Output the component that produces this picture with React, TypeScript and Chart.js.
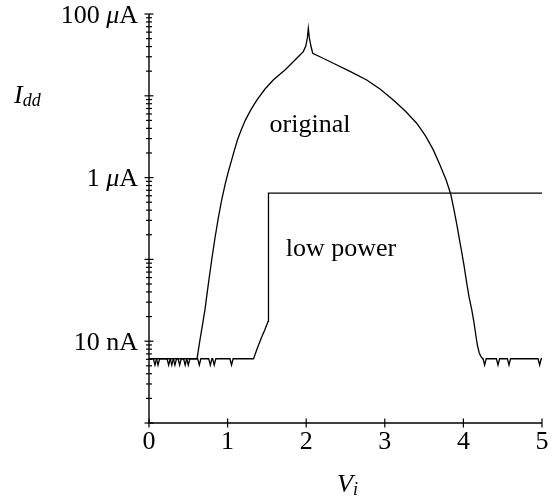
import React, { useEffect, useRef } from "react";
import { Chart, registerables } from "chart.js";

Chart.register(...registerables);

// Supply current I_dd (A) against input voltage V_i (V), original cell
const originalV = [
  0, 0.056, 0.076, 0.096, 0.23, 0.25, 0.27, 0.31, 0.33, 0.35, 0.44, 0.46, 0.48,
  0.611, 0.649, 0.681, 0.712, 0.754, 0.798, 0.84, 0.882, 0.925, 0.967, 1.009,
  1.052, 1.088, 1.126, 1.174, 1.228, 1.295, 1.374, 1.476, 1.581, 1.654, 1.73,
  1.807, 1.879, 1.921, 1.963, 1.995, 2.015, 2.027, 2.04, 2.06, 2.083, 2.201,
  2.345, 2.557, 2.77, 2.939, 3.108, 3.257, 3.406, 3.518, 3.617, 3.702, 3.779,
  3.838, 3.88, 3.919, 3.95, 3.978, 4.008, 4.042, 4.071, 4.106, 4.135, 4.16,
  4.179, 4.202, 4.224, 4.246, 4.25, 4.27, 4.29, 4.42, 4.44, 4.46, 4.56, 4.58,
  4.6, 4.95, 4.97, 4.99, 5.0,
];
const originalI = [
  6.1e-9, 6.1e-9, 5.1e-9, 6.1e-9, 6.1e-9, 5.1e-9, 6.1e-9, 6.1e-9, 5.1e-9, 6.1e-9, 6.1e-9, 5.1e-9, 6.1e-9,
  6.1e-9, 1.047e-8, 1.596e-8, 2.43e-8, 4.91e-8, 9.91e-8, 1.84e-7, 3.21e-7, 5.36e-7, 8.17e-7, 1.18e-6,
  1.65e-6, 2.18e-6, 2.9e-6, 3.84e-6, 5.08e-6, 6.73e-6, 8.91e-6, 1.21e-5, 1.56e-5, 1.8e-5, 2.07e-5,
  2.45e-5, 2.88e-5, 3.16e-5, 3.47e-5, 4.06e-5, 5.1e-5, 6.68e-5, 5.1e-5, 4.06e-5, 3.31e-5, 2.92e-5,
  2.5e-5, 1.99e-5, 1.56e-5, 1.21e-5, 8.91e-6, 6.55e-6, 4.62e-6, 3.24e-6, 2.18e-6, 1.43e-6, 9.4e-7,
  6.34e-7, 4.05e-7, 2.58e-7, 1.74e-7, 1.24e-7, 8.38e-8, 5.15e-8, 3.51e-8, 2.43e-8, 1.69e-8, 1.15e-8,
  8.83e-9, 7.19e-9, 6.49e-9, 6.1e-9, 6.1e-9, 5.1e-9, 6.1e-9, 6.1e-9, 5.1e-9, 6.1e-9, 6.1e-9, 5.1e-9,
  6.1e-9, 6.1e-9, 5.1e-9, 6.1e-9, 6.1e-9,
];

// Supply current of the low power cell
const lowPowerV = [
  0, 0.095, 0.115, 0.135, 0.27, 0.29, 0.31, 0.37, 0.39, 0.41, 0.48, 0.5, 0.52,
  0.62, 0.64, 0.66, 0.76, 0.78, 0.8, 0.81, 0.83, 0.85, 1.03, 1.05, 1.07,
  1.33, 1.38, 1.43, 1.47, 1.5, 1.515, 1.52, 5.0,
];
const lowPowerI = [
  6.1e-9, 6.1e-9, 5.1e-9, 6.1e-9, 6.1e-9, 5.1e-9, 6.1e-9, 6.1e-9, 5.1e-9, 6.1e-9, 6.1e-9, 5.1e-9, 6.1e-9,
  6.1e-9, 5.1e-9, 6.1e-9, 6.1e-9, 5.1e-9, 6.1e-9, 6.1e-9, 5.1e-9, 6.1e-9, 6.1e-9, 5.1e-9, 6.1e-9,
  6.1e-9, 8.3e-9, 1.1e-8, 1.35e-8, 1.6e-8, 1.75e-8, 6.47e-7, 6.47e-7,
];

const xTickValues = [0, 1, 2, 3, 4, 5];
const yLabelValues = [1e-4, 1e-6, 1e-8];
const yLabelNumbers = ["100", "1", "10"];
const yLabelPrefixes = ["μ", "μ", "n"];
const yLabelPrefixItalic = [true, true, false];

const SERIF = '"Liberation Serif", "Times New Roman", serif';
const FONT_PX = 26;

const toPoints = (xs: number[], ys: number[]) => xs.map((x, i) => ({ x, y: ys[i] }));

type Seg = { text: string; italic: boolean; size: number; dy: number };

function drawSegs(ctx: CanvasRenderingContext2D, segs: Seg[], x: number, y: number, align: "left" | "right" | "center") {
  const widths = segs.map((s) => {
    ctx.font = `${s.italic ? "italic " : ""}${s.size}px ${SERIF}`;
    return ctx.measureText(s.text).width;
  });
  const total = widths.reduce((a, b) => a + b, 0);
  let cx = align === "left" ? x : align === "right" ? x - total : x - total / 2;
  ctx.textAlign = "left";
  ctx.textBaseline = "alphabetic";
  segs.forEach((s, i) => {
    ctx.font = `${s.italic ? "italic " : ""}${s.size}px ${SERIF}`;
    ctx.fillText(s.text, cx, y + s.dy);
    cx += widths[i];
  });
}

const axesPlugin = {
  id: "texAxes",
  afterDraw(chart: any) {
    const { ctx, chartArea, scales } = chart;
    const xs = scales.x;
    const ys = scales.y;
    const left = chartArea.left;
    const bottom = chartArea.bottom;
    ctx.save();
    ctx.strokeStyle = "#000";
    ctx.fillStyle = "#000";
    ctx.lineWidth = 1.4;
    ctx.beginPath();
    ctx.moveTo(left, chartArea.top);
    ctx.lineTo(left, bottom);
    ctx.lineTo(xs.getPixelForValue(5), bottom);
    ctx.stroke();

    // logarithmic ticks: long at each decade, short in between
    ctx.lineWidth = 1.2;
    for (let d = -9; d <= -4; d++) {
      for (let m = 1; m <= 9; m++) {
        const v = m * Math.pow(10, d);
        if (v > 1.0001e-4) break;
        const py = ys.getPixelForValue(v);
        const half = m === 1 ? 4.5 : 3;
        ctx.beginPath();
        ctx.moveTo(left - half, py);
        ctx.lineTo(left + half, py);
        ctx.stroke();
      }
    }

    // x ticks and labels
    xTickValues.forEach((v) => {
      const px = xs.getPixelForValue(v);
      ctx.beginPath();
      ctx.moveTo(px, bottom - 4.5);
      ctx.lineTo(px, bottom + 4.5);
      ctx.stroke();
      drawSegs(ctx, [{ text: String(v), italic: false, size: FONT_PX, dy: 0 }], px, bottom + 26, "center");
    });

    // y labels
    yLabelValues.forEach((v, i) => {
      const py = ys.getPixelForValue(v);
      drawSegs(
        ctx,
        [
          { text: yLabelNumbers[i] + " ", italic: false, size: FONT_PX, dy: 0 },
          { text: yLabelPrefixes[i], italic: yLabelPrefixItalic[i], size: FONT_PX, dy: 0 },
          { text: "A", italic: false, size: FONT_PX, dy: 0 },
        ],
        left - 11,
        py + 8.5,
        "right"
      );
    });

    // axis titles
    drawSegs(
      ctx,
      [
        { text: "I", italic: true, size: FONT_PX, dy: 0 },
        { text: "dd", italic: true, size: 18, dy: 3 },
      ],
      14,
      103,
      "left"
    );
    drawSegs(
      ctx,
      [
        { text: "V", italic: true, size: FONT_PX, dy: 0 },
        { text: "i", italic: true, size: 18, dy: 3 },
      ],
      337,
      492,
      "left"
    );

    // curve names
    drawSegs(ctx, [{ text: "original", italic: false, size: FONT_PX, dy: 0 }], 310, 132, "center");
    drawSegs(ctx, [{ text: "low power", italic: false, size: FONT_PX, dy: 0 }], 341, 256, "center");
    ctx.restore();
  },
};

export default function App() {
  const canvasRef = useRef<HTMLCanvasElement | null>(null);

  useEffect(() => {
    const canvas = canvasRef.current;
    if (!canvas) return;
    const chart = new Chart(canvas, {
      type: "line",
      data: {
        datasets: [
          {
            label: "original",
            data: toPoints(originalV, originalI),
            borderColor: "#000",
            borderWidth: 1.3,
            pointRadius: 0,
            fill: false,
            tension: 0,
          },
          {
            label: "low power",
            data: toPoints(lowPowerV, lowPowerI),
            borderColor: "#000",
            borderWidth: 1.3,
            pointRadius: 0,
            fill: false,
            tension: 0,
          },
        ],
      },
      options: {
        responsive: false,
        animation: false,
        devicePixelRatio: 1,
        layout: { padding: { left: 149, right: 11, top: 14, bottom: 73 } },
        plugins: { legend: { display: false }, tooltip: { enabled: false } },
        scales: {
          x: { type: "linear", min: 0, max: 5, display: false },
          y: { type: "logarithmic", min: 1e-9, max: 1e-4, display: false },
        },
      },
      plugins: [axesPlugin],
    } as any);
    return () => chart.destroy();
  }, []);

  return (
    <div style={{ position: "absolute", left: 0, top: 0, width: 553, height: 496, background: "#fff" }}>
      <canvas ref={canvasRef} width={553} height={496} style={{ display: "block" }} />
    </div>
  );
}
